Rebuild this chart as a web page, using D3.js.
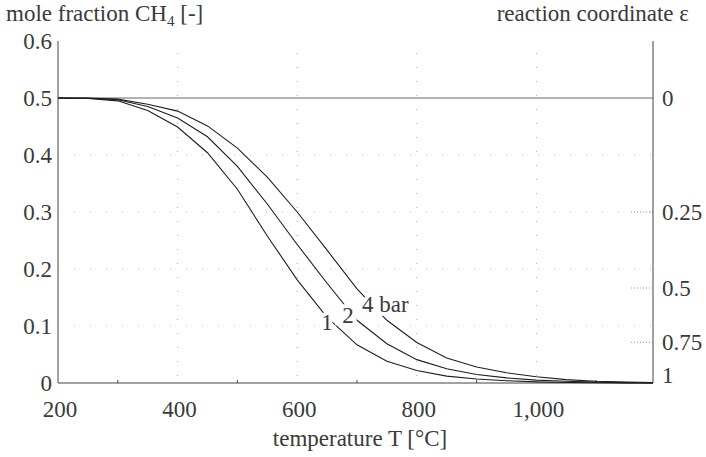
<!DOCTYPE html>
<html>
<head>
<meta charset="utf-8">
<script src="https://cdn.jsdelivr.net/npm/d3@7"></script>
<style>
body { margin: 0; background: #fff; }
</style>
</head>
<body>
<script>
var temps = [200, 250, 300, 350, 400, 450, 500, 550, 600, 650, 700, 750, 800, 850, 900, 950, 1000, 1050, 1100, 1150, 1195];
// mole fraction CH4 at 1, 2 and 4 bar
var bar1 = [0.5, 0.499, 0.495, 0.478, 0.449, 0.404, 0.340, 0.258, 0.181, 0.115, 0.067, 0.038, 0.022, 0.012, 0.007, 0.004, 0.002, 0.001, 0.0005, 0.0002, 0.0001];
var bar2 = [0.5, 0.4995, 0.497, 0.485, 0.465, 0.432, 0.380, 0.314, 0.243, 0.175, 0.110, 0.069, 0.041, 0.025, 0.015, 0.009, 0.005, 0.003, 0.0015, 0.0007, 0.0003];
var bar4 = [0.5, 0.4997, 0.498, 0.489, 0.477, 0.451, 0.412, 0.361, 0.300, 0.233, 0.165, 0.110, 0.071, 0.044, 0.028, 0.018, 0.011, 0.006, 0.003, 0.0015, 0.0007];

var xTicks = [200, 400, 600, 800, 1000];
var xMinor = [300, 500, 700, 900, 1100];
var yTicks = [0, 0.1, 0.2, 0.3, 0.4, 0.5, 0.6];
var epsTicks = [0, 0.25, 0.5, 0.75, 1];
var epsLabels = ["0", "0.25", "0.5", "0.75", "1"];

var width = 706, height = 457;
var fontStyle = "font-family: 'Liberation Serif', 'DejaVu Serif', serif; fill: #3a3a3a;";

var svg = d3.select("body").append("svg")
    .attr("width", width)
    .attr("height", height);

var x = d3.scaleLinear().domain([200, 1195]).range([58, 653]);
var y = d3.scaleLinear().domain([0, 0.6]).range([383, 41]);

// mole fraction of CH4 belonging to a reaction coordinate
function epsToFrac(e) { return (1 - e) / (2 * (1 + e)); }

// faint dotted grid
svg.append("g").selectAll("line")
    .data(xTicks.slice(1))
    .enter().append("line")
    .attr("x1", d => x(d)).attr("x2", d => x(d))
    .attr("y1", y(0.6) + 12).attr("y2", y(0))
    .attr("stroke", "#aaa").attr("stroke-width", 1)
    .attr("stroke-dasharray", "1,13");

svg.append("g").selectAll("line")
    .data([0.1, 0.2, 0.3, 0.4])
    .enter().append("line")
    .attr("x1", x(200)).attr("x2", x(1195))
    .attr("y1", d => y(d)).attr("y2", d => y(d))
    .attr("stroke", "#bbb").attr("stroke-width", 1)
    .attr("stroke-dasharray", "1,15");

// short dotted ticks on the inner side of the right axis
svg.append("g").selectAll("line")
    .data(epsTicks.slice(1, 4))
    .enter().append("line")
    .attr("x1", x(1195) - 22).attr("x2", x(1195))
    .attr("y1", d => y(epsToFrac(d))).attr("y2", d => y(epsToFrac(d)))
    .attr("stroke", "#999").attr("stroke-dasharray", "1,2");

// reference line at eps = 0
svg.append("line")
    .attr("x1", x(200)).attr("x2", x(1195))
    .attr("y1", y(0.5)).attr("y2", y(0.5))
    .attr("stroke", "#666").attr("stroke-width", 1);

// axes
var axisColor = "#444";
svg.append("line").attr("x1", x(200)).attr("x2", x(200)).attr("y1", y(0.6)).attr("y2", y(0)).attr("stroke", axisColor);
svg.append("line").attr("x1", x(1195)).attr("x2", x(1195)).attr("y1", y(0.6)).attr("y2", y(0)).attr("stroke", axisColor);
svg.append("line").attr("x1", x(200)).attr("x2", x(1195)).attr("y1", y(0)).attr("y2", y(0)).attr("stroke", axisColor);

svg.append("g").selectAll("line")
    .data(xMinor)
    .enter().append("line")
    .attr("x1", d => x(d)).attr("x2", d => x(d))
    .attr("y1", y(0)).attr("y2", y(0) - 3)
    .attr("stroke", axisColor);

// curves
var line = d3.line()
    .x((d, i) => x(temps[i]))
    .y(d => y(d));

[bar1, bar2, bar4].forEach(function(s) {
    svg.append("path")
        .datum(s)
        .attr("d", line)
        .attr("fill", "none")
        .attr("stroke", "#1e1e1e")
        .attr("stroke-width", 1.1);
});

// curve labels, white halo breaks the lines
var curveLabels = [
    { t: "1", x: 327, y: 330, a: "middle" },
    { t: "2", x: 348, y: 323, a: "middle" },
    { t: "4 bar", x: 362, y: 312, a: "start" }
];
svg.append("g").selectAll("text")
    .data(curveLabels)
    .enter().append("text")
    .attr("style", fontStyle)
    .attr("x", d => d.x).attr("y", d => d.y)
    .attr("text-anchor", d => d.a)
    .attr("font-size", 23)
    .attr("stroke", "#fff").attr("stroke-width", 8)
    .attr("paint-order", "stroke")
    .text(d => d.t);

// tick labels
svg.append("g").selectAll("text")
    .data(yTicks)
    .enter().append("text")
    .attr("style", fontStyle)
    .attr("x", 52)
    .attr("y", d => y(d) + 8)
    .attr("text-anchor", "end")
    .attr("font-size", 23)
    .text(d => d === 0 ? "0" : d3.format(".1f")(d));

svg.append("g").selectAll("text")
    .data(xTicks)
    .enter().append("text")
    .attr("style", fontStyle)
    .attr("x", d => x(d) + 2)
    .attr("y", 417)
    .attr("text-anchor", "middle")
    .attr("font-size", 23)
    .text(d => d3.format(",")(d));

svg.append("g").selectAll("text")
    .data(epsTicks)
    .enter().append("text")
    .attr("style", fontStyle)
    .attr("x", 662)
    .attr("y", d => y(epsToFrac(d)) + (d === 1 ? 0 : 8))
    .attr("font-size", 23)
    .text((d, i) => epsLabels[i]);

// titles
var t = svg.append("text").attr("style", fontStyle)
    .attr("x", 6).attr("y", 21).attr("font-size", 23);
t.append("tspan").text("mole fraction CH");
t.append("tspan").attr("font-size", 15).attr("dy", 5).text("4");
t.append("tspan").attr("dy", -5).text(" [-]");

svg.append("text")
    .attr("style", fontStyle)
    .attr("x", 689).attr("y", 21)
    .attr("text-anchor", "end")
    .attr("font-size", 23)
    .text("reaction coordinate ε");

svg.append("text")
    .attr("style", fontStyle)
    .attr("x", 360).attr("y", 446)
    .attr("text-anchor", "middle")
    .attr("font-size", 23)
    .text("temperature T [°C]");
</script>
</body>
</html>
